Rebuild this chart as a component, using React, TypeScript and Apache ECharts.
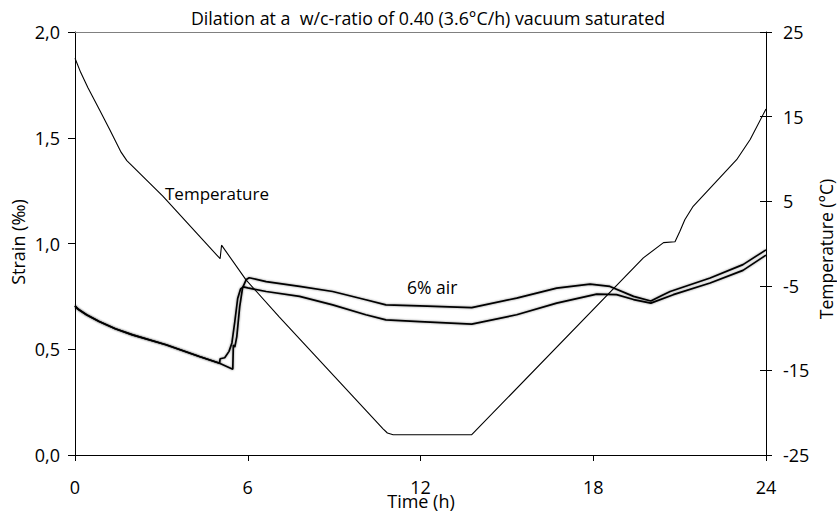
import React, { useEffect, useRef } from "react";
import * as echarts from "echarts";

// Time (h) ticks and axis ranges
const timeTicks = [0, 6, 12, 18, 24];
const strainRange = [0, 2];
const tempRange = [-25, 25];

// Temperature (°C) vs time (h)
const temperature: [number, number][] = [
  [0, 21.9], [0.2, 20.2], [0.45, 18.4], [0.85, 15.8], [1.2, 13.5],
  [1.6, 10.8], [1.8, 9.8], [3.05, 5.6], [5.04, -1.8], [5.09, -0.2], [5.94, -4.3],
  [7.1, -8.7], [10.7, -21.9], [10.85, -22.4], [11.05, -22.6], [13.78, -22.6],
  [19.74, -1.7], [20.44, 0.1], [20.84, 0.2], [21.01, 1.45], [21.18, 2.8],
  [21.47, 4.4], [22.98, 9.9], [23.45, 12.3], [24, 15.9],
];

// Strain (‰) – specimen ending higher
const strainUpper: [number, number][] = [
  [0, 0.705], [0.1, 0.69], [0.4, 0.663], [0.84, 0.631], [1.4, 0.597], [2.0, 0.568],
  [3.16, 0.521], [4.32, 0.466], [5.02, 0.434], [5.48, 0.405], [5.5, 0.52], [5.55, 0.51],
  [5.62, 0.56], [5.72, 0.7], [5.82, 0.79], [5.95, 0.83], [6.05, 0.838], [6.64, 0.82],
  [7.8, 0.797], [8.95, 0.773], [10.1, 0.734], [10.8, 0.71], [11.97, 0.705],
  [13.78, 0.697], [15.34, 0.742], [16.73, 0.789], [17.89, 0.808], [18.58, 0.797],
  [19.4, 0.75], [20.0, 0.728], [20.4, 0.755], [20.67, 0.773], [22.06, 0.837],
  [23.2, 0.9], [24, 0.97],
];

// Strain (‰) – specimen ending lower
const strainLower: [number, number][] = [
  [0, 0.705], [0.1, 0.69], [0.4, 0.663], [0.84, 0.631], [1.4, 0.597], [2.0, 0.568],
  [3.16, 0.521], [4.32, 0.466], [5.02, 0.434], [5.04, 0.455], [5.2, 0.46], [5.35, 0.49],
  [5.45, 0.53], [5.55, 0.63], [5.65, 0.74], [5.75, 0.785], [5.85, 0.795], [6.0, 0.79],
  [6.64, 0.773], [7.8, 0.75], [8.95, 0.71], [10.1, 0.663], [10.8, 0.639],
  [11.97, 0.631], [13.78, 0.619], [15.34, 0.663], [16.73, 0.718], [18.12, 0.761],
  [18.81, 0.758], [19.4, 0.735], [20.0, 0.718], [20.78, 0.758], [22.06, 0.813],
  [23.2, 0.873], [24, 0.945],
];

const FONT = "'Open Sans', 'Noto Sans', sans-serif";

export default function App() {
  const ref = useRef<HTMLDivElement>(null);
  useEffect(() => {
    if (!ref.current) return;
    const chart = echarts.init(ref.current, null, { renderer: "svg" });
    const lineCommon = {
      type: "line" as const,
      showSymbol: false,
      symbol: "none",
      smooth: false,
    };
    const strainStyle = {
      color: "#000",
      width: 1.7,
      shadowColor: "rgba(0,0,0,0.45)",
      shadowBlur: 2,
    };
    chart.setOption({
      animation: false,
      backgroundColor: "#fff",
      textStyle: { fontFamily: FONT, color: "#000" },
      grid: { left: 75, right: 71, top: 32, bottom: 60 },
      xAxis: [
        {
          type: "value",
          position: "bottom",
          min: timeTicks[0],
          max: timeTicks[timeTicks.length - 1],
          interval: 6,
          axisLine: { show: true, onZero: false, lineStyle: { color: "#000", width: 1 } },
          axisTick: { show: true, inside: false, length: 6, lineStyle: { color: "#000" } },
          axisLabel: { fontSize: 18, color: "#000", margin: 23, fontFamily: FONT },
          splitLine: { show: false },
        },
        {
          type: "value",
          position: "top",
          min: timeTicks[0],
          max: timeTicks[timeTicks.length - 1],
          interval: 6,
          axisLine: { show: true, onZero: false, lineStyle: { color: "#808080", width: 1 } },
          axisTick: { show: false },
          axisLabel: { show: false },
          splitLine: { show: false },
        },
      ],
      yAxis: [
        {
          type: "value",
          position: "left",
          min: strainRange[0],
          max: strainRange[1],
          interval: 0.5,
          axisLine: { show: true, onZero: false, lineStyle: { color: "#000", width: 1 } },
          axisTick: { show: true, inside: false, length: 7, lineStyle: { color: "#000" } },
          axisLabel: {
            fontSize: 18,
            color: "#000",
            margin: 15,
            fontFamily: FONT,
            formatter: (v: number) => v.toFixed(1).replace(".", ","),
          },
          splitLine: { show: false },
        },
        {
          type: "value",
          position: "right",
          min: tempRange[0],
          max: tempRange[1],
          interval: 10,
          axisLine: { show: true, onZero: false, lineStyle: { color: "#000", width: 1 } },
          axisTick: { show: true, inside: false, length: 6, lineStyle: { color: "#000" } },
          axisLabel: { fontSize: 18, color: "#000", margin: 17, fontFamily: FONT },
          splitLine: { show: false },
        },
        {
          type: "value",
          position: "right",
          min: tempRange[0],
          max: tempRange[1],
          interval: 10,
          axisLine: { show: false, onZero: false },
          axisTick: { show: true, inside: true, length: 6, lineStyle: { color: "#000" } },
          axisLabel: { show: false },
          splitLine: { show: false },
        },
      ],
      graphic: [
        {
          type: "text",
          x: 428,
          y: 18,
          style: {
            text: "Dilation at a  w/c-ratio of 0.40 (3.6°C/h) vacuum saturated",
            font: `17.8px ${FONT}`,
            fill: "#000",
            textAlign: "center",
            textVerticalAlign: "middle",
          },
        },
        {
          type: "text",
          x: 421,
          y: 501,
          style: {
            text: "Time (h)",
            font: `18px ${FONT}`,
            fill: "#000",
            textAlign: "center",
            textVerticalAlign: "middle",
          },
        },
        {
          type: "text",
          x: 18,
          y: 242,
          rotation: Math.PI / 2,
          style: {
            text: "Strain (‰)",
            font: `18px ${FONT}`,
            fill: "#000",
            textAlign: "center",
            textVerticalAlign: "middle",
          },
        },
        {
          type: "text",
          x: 826,
          y: 249,
          rotation: Math.PI / 2,
          style: {
            text: "Temperature (°C)",
            font: `17.5px ${FONT}`,
            fill: "#000",
            textAlign: "center",
            textVerticalAlign: "middle",
          },
        },
        {
          type: "text",
          x: 165,
          y: 193,
          style: {
            text: "Temperature",
            font: `17px ${FONT}`,
            fill: "#000",
            textAlign: "left",
            textVerticalAlign: "middle",
          },
        },
        {
          type: "text",
          x: 407,
          y: 287,
          style: {
            text: "6% air",
            font: `17.5px ${FONT}`,
            fill: "#000",
            textAlign: "left",
            textVerticalAlign: "middle",
          },
        },
      ],
      series: [
        {
          ...lineCommon,
          name: "Temperature",
          xAxisIndex: 0,
          yAxisIndex: 1,
          data: temperature,
          lineStyle: { color: "#000", width: 1.1 },
        },
        {
          ...lineCommon,
          name: "Strain upper",
          xAxisIndex: 0,
          yAxisIndex: 0,
          data: strainUpper,
          lineStyle: strainStyle,
        },
        {
          ...lineCommon,
          name: "Strain lower",
          xAxisIndex: 0,
          yAxisIndex: 0,
          data: strainLower,
          lineStyle: strainStyle,
        },
      ],
    });
    return () => chart.dispose();
  }, []);
  return <div ref={ref} style={{ width: 837, height: 515, position: "fixed", left: 0, top: 0 }} />;
}
